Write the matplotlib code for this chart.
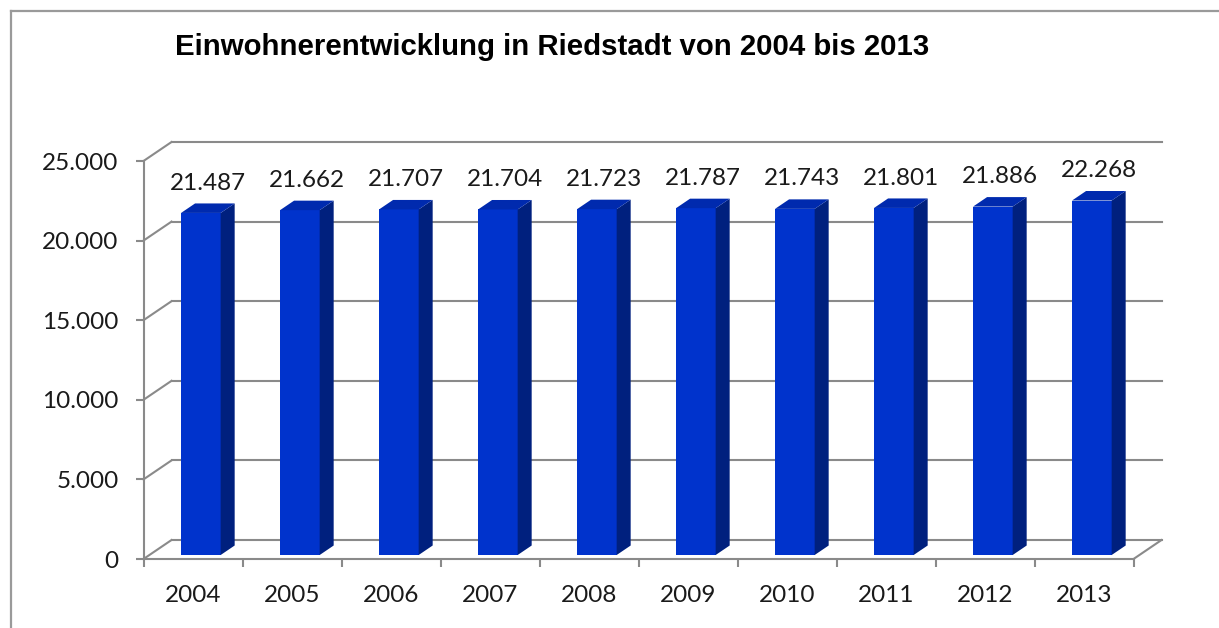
import numpy as np
import matplotlib
matplotlib.use("Agg")
import matplotlib.pyplot as plt
from matplotlib.patches import Polygon
from matplotlib.lines import Line2D

# ---- data ----
years = ["2004", "2005", "2006", "2007", "2008", "2009", "2010", "2011", "2012", "2013"]
population = [21487, 21662, 21707, 21704, 21723, 21787, 21743, 21801, 21886, 22268]
yticks = [0, 5000, 10000, 15000, 20000, 25000]
ytick_labels = ["0", "5.000", "10.000", "15.000", "20.000", "25.000"]
title = "Einwohnerentwicklung in Riedstadt von 2004 bis 2013"

# ---- style ----
W, H, DPI = 1219, 628, 100
GRID = "#8a8a8a"
FRONT = "#0033cc"
TOP = "#002aae"
SIDE = "#00207e"
LABEL_FONT = "Lato"

fig = plt.figure(figsize=(W / DPI, H / DPI), dpi=DPI)
fig.patch.set_facecolor("white")

# outer chart border (only top & left edges are inside the picture)
bx, by = 10.5 / W, 1 - 10.5 / H
fig.add_artist(Line2D([bx, 1.05], [by, by], transform=fig.transFigure, color="#9a9a9a", lw=1.6))
fig.add_artist(Line2D([bx, bx], [by, -0.05], transform=fig.transFigure, color="#9a9a9a", lw=1.6))

ax = fig.add_axes([143.5 / W, (H - 559) / H, 990 / W, 398 / H])
n = len(years)
ax.set_xlim(0, n)
ax.set_ylim(0, 25000)
ax.set_facecolor("none")

# oblique depth offsets (data units)
DX = 0.283      # in categories
DY = 1193.0     # in value units
d0, d1 = 0.21, 0.71   # bar front/back depth fractions

# back wall gridlines + left wall diagonals
for v in yticks:
    ax.add_line(Line2D([DX, n + DX], [v + DY, v + DY], color=GRID, lw=1.5, zorder=1, clip_on=False))
    ax.add_line(Line2D([0, DX], [v, v + DY], color=GRID, lw=1.5, zorder=1, clip_on=False))
# floor right edge
ax.add_line(Line2D([n, n + DX], [0, DY], color=GRID, lw=1.5, zorder=1, clip_on=False))

# bars
xs = np.arange(n) + 0.52
bw = 0.40
fx = xs + d0 * DX
fb = d0 * DY
ax.bar(fx, population, width=bw, bottom=fb, color=FRONT, edgecolor="none", zorder=3)
ddx = (d1 - d0) * DX
ddy = (d1 - d0) * DY
for x, v in zip(fx, population):
    l, r = x - bw / 2, x + bw / 2
    top = v + fb
    side = Polygon([[r, fb], [r + ddx, fb + ddy], [r + ddx, top + ddy], [r, top]],
                   closed=True, facecolor=SIDE, edgecolor="none", zorder=3, clip_on=False)
    topf = Polygon([[l, top], [r, top], [r + ddx, top + ddy], [l + ddx, top + ddy]],
                   closed=True, facecolor=TOP, edgecolor="none", zorder=3, clip_on=False)
    ax.add_patch(side)
    ax.add_patch(topf)
    ax.annotate(f"{v:,}".replace(",", "."), xy=(x + ddx / 2, top + ddy), xytext=(0, 10),
                textcoords="offset points", ha="center", va="baseline",
                fontsize=17.5, family=LABEL_FONT, color="#1a1a1a", annotation_clip=False)

# axes / spines
for s in ("top", "right"):
    ax.spines[s].set_visible(False)
for s in ("left", "bottom"):
    ax.spines[s].set_color(GRID)
    ax.spines[s].set_linewidth(1.5)
    ax.spines[s].set_zorder(4)

ax.set_yticks(yticks)
ax.set_yticklabels(ytick_labels, fontsize=17.5, family=LABEL_FONT, color="#1a1a1a")
ax.tick_params(axis="y", direction="out", length=6, width=1.5, color=GRID, pad=12)

ax.set_xticks(np.arange(n + 1))
ax.set_xticklabels([])
ax.set_xticks(np.arange(n) + 0.5, minor=True)
ax.set_xticklabels(years, minor=True, fontsize=17.5, family=LABEL_FONT, color="#1a1a1a")
ax.tick_params(axis="x", which="major", direction="out", length=6, width=1.5, color=GRID)
ax.tick_params(axis="x", which="minor", length=0, pad=19)

fig.text(175 / W, 1 - 55 / H, title, fontsize=21.2, fontweight="bold",
         family="Liberation Sans", ha="left", va="baseline", color="black")

fig.savefig("out.png", dpi=DPI)
